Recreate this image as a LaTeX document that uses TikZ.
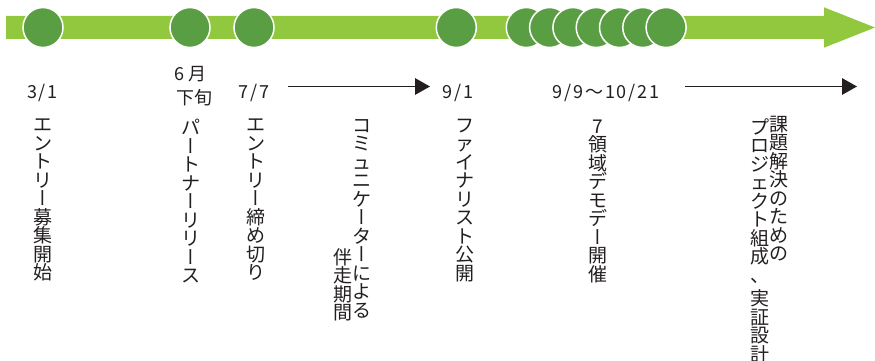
\documentclass[tikz,border=0pt]{standalone}
\usepackage{fontspec}
\usetikzlibrary{arrows.meta}
\setmainfont{Noto Sans CJK JP}
\newfontfamily\jpv{Noto Sans CJK JP}
\newfontfamily\jpvert[Script=CJK,RawFeature=+vert]{Noto Sans CJK JP}
\newfontfamily\jpl[LetterSpace=10]{Noto Sans CJK JP}
\definecolor{barg}{RGB}{146,200,62}
\definecolor{dotg}{RGB}{90,158,68}
\definecolor{ink}{RGB}{35,31,32}
\newcommand\vb{{\jpvert ー}}
\newcommand\vtfont{\jpv\fontsize{19pt}{18.5pt}\selectfont\lineskiplimit=-100pt\relax\lineskip=0pt\relax}
\tikzset{
  vt/.style={anchor=north, align=center, inner sep=0pt, text=ink, font=\vtfont},
  lab/.style={anchor=base, inner sep=0pt, text=ink, font=\jpl\fontsize{18pt}{21pt}\selectfont},
  labk/.style={anchor=base, inner sep=0pt, text=ink, font=\jpv\fontsize{18pt}{21pt}\selectfont},
  dot/.style={circle, fill=dotg, draw=white, line width=1.5pt, minimum size=40pt, inner sep=0pt},
  tl/.style={draw=ink, line width=1.4pt, -{Triangle[length=15pt,width=16.5pt]}}
}
\begin{document}
\begin{tikzpicture}[x=1pt,y=-1pt]
\useasboundingbox (0,0) rectangle (875,361);
% timeline bar
\fill[barg] (6,16) -- (824,16) -- (824,7.3) -- (875,27.5) -- (824,47.7) -- (824,39) -- (6,39) -- cycle;
% milestones
\node[dot] (m1) at (43,27.5) {};
\node[dot] (m2) at (190,27.5) {};
\node[dot] (m3) at (254,27.5) {};
\node[dot] (m4) at (456.3,27.5) {};
\node[dot] (m5) at (526.3,27.5) {};
\node[dot] (m6) at (549.6,27.5) {};
\node[dot] (m7) at (572.9,27.5) {};
\node[dot] (m8) at (596.2,27.5) {};
\node[dot] (m9) at (619.5,27.5) {};
\node[dot] (m10) at (642.8,27.5) {};
\node[dot] (m11) at (666.1,27.5) {};
% date labels
\node[lab] (l1) at (42.5,98.3) {3/1};
\node[labk] (l2a) at (190.3,81) {6 月};
\node[labk] (l2b) at (194,104.5) {下旬};
\node[lab] (l3) at (254.2,98.3) {7/7};
\node[lab] (l4) at (458,98.3) {9/1};
\node[lab] (l5) at (606,98.3) {9/9〜10/21};
% period arrows
\coordinate (p1) at (288,86.5);
\coordinate (q1) at (430,86.5);
\draw[tl] (p1) -- (q1);
\coordinate (p2) at (685,86.5);
\coordinate (q2) at (857,86.5);
\draw[tl] (p2) -- (q2);
% vertical texts
\node[vt] (v1) at (42.5,119) {エ\\ン\\ト\\リ\\\vb\\募\\集\\開\\始};
\node[vt] (v2) at (191,119) {パ\\\vb\\ト\\ナ\\\vb\\リ\\リ\\\vb\\ス};
\node[vt] (v3) at (255.8,119) {エ\\ン\\ト\\リ\\\vb\\締\\め\\切\\り};
\node[vt] (v4a) at (361.7,119) {コ\\ミ\\ュ\\ニ\\ケ\\\vb\\タ\\\vb\\に\\よ\\る};
\node[vt] (v4b) at (342.5,248) {伴\\走\\期\\間};
\node[vt] (v5) at (465,118.5) {フ\\ァ\\イ\\ナ\\リ\\ス\\ト\\公\\開};
\node[vt] (v6) at (597.5,119.5) {7\\領\\域\\デ\\モ\\デ\\\vb\\開\\催};
\node[vt] (v7a) at (779,116) {課\\題\\解\\決\\の\\た\\め\\の};
\node[vt] (v7b) at (760,118.3) {プ\\ロ\\ジ\\ェ\\ク\\ト\\組\\成\\、\\[5pt]実\\証\\設\\計};
\end{tikzpicture}
\end{document}
